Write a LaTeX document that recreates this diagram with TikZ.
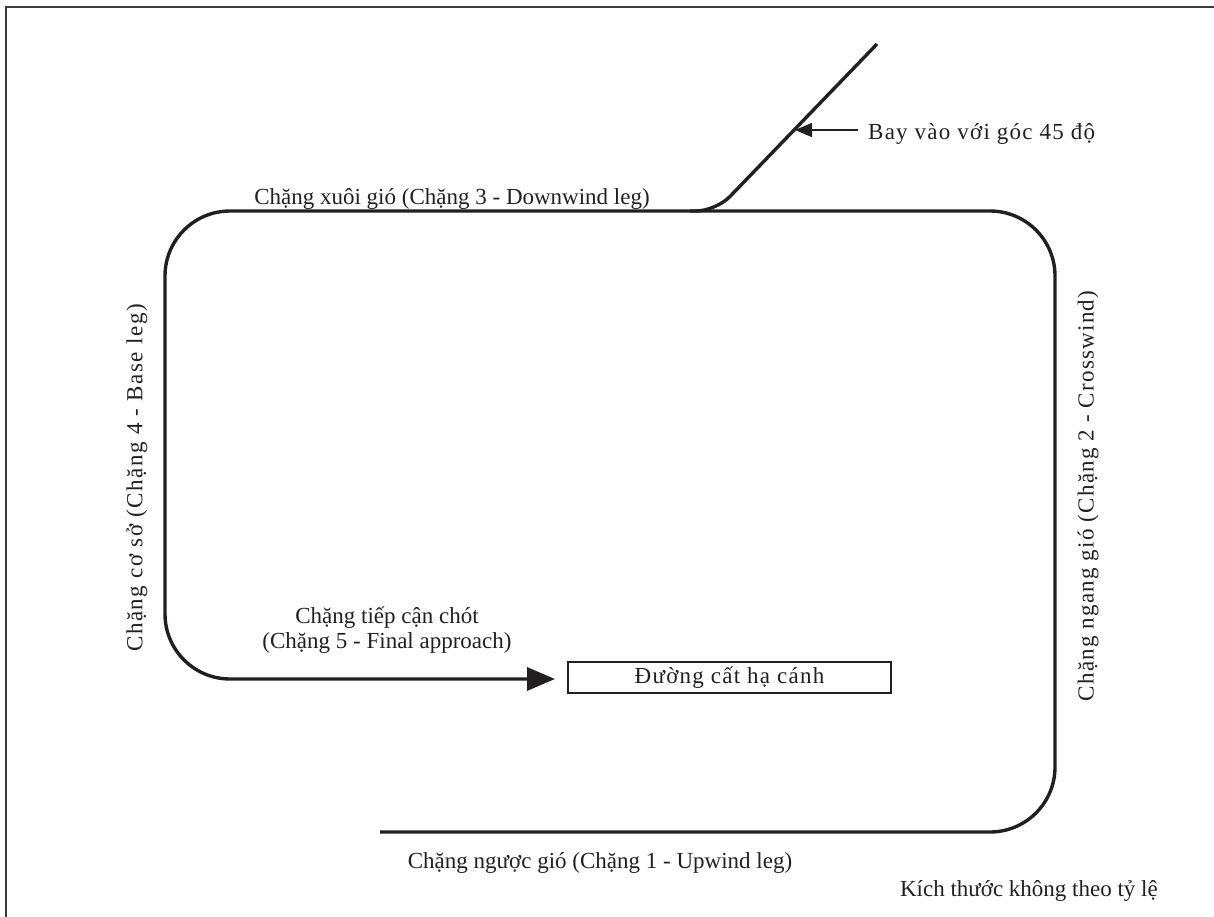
\documentclass[tikz,border=0pt]{standalone}
\usepackage{fontspec}
\setmainfont{Liberation Serif}
\newfontfamily\spacedfont[LetterSpace=5.4]{Liberation Serif}
\newfontfamily\widefont[LetterSpace=6.6]{Liberation Serif}
\usetikzlibrary{arrows.meta}
\definecolor{ink}{HTML}{231F20}
\definecolor{framec}{HTML}{3C3C3C}
\begin{document}
\begin{tikzpicture}[x=1pt,y=-1pt,
  lbl/.style={font=\fontsize{23}{28}\selectfont, text=ink, inner sep=0pt},
  slbl/.style={font=\spacedfont\fontsize{23}{28}\selectfont, text=ink, inner sep=0pt},
  wlbl/.style={font=\widefont\fontsize{23}{28}\selectfont, text=ink, inner sep=0pt},
  leg/.style={draw=ink, line width=3.4pt, line join=round},
  runwaybox/.style={draw=ink, line width=2.2pt, minimum width=323pt, minimum height=31pt, inner sep=0pt},
  pointer/.style={draw=ink, line width=1.5pt, -{Triangle[length=17pt,width=14pt]}},
]
\useasboundingbox (0,0) rectangle (1214,917);
% frame
\draw[framec, line width=2pt] (6,917) -- (6,7) -- (1214,7);

% runway
\node[runwaybox, slbl] (runway) at (729.5,677.5) {Đường cất hạ cánh};

% traffic pattern
\coordinate (p0) at (380,832);
\coordinate (c1) at (1055,832);
\coordinate (c2) at (1055,211);
\coordinate (c3) at (165,211);
\coordinate (c4) at (165,679);
\coordinate (tip) at (555,679);
\draw[leg, rounded corners=65, -{Triangle[length=28pt,width=23pt]}]
  (p0) -- (c1) -- (c2) -- (c3) -- (c4) -- (tip);

% 45 degree entry
\coordinate (e0) at (877,44);
\coordinate (e1) at (716,211);
\coordinate (e2) at (690,211);
\draw[leg, rounded corners=20] (e0) -- (e1) -- (e2);

% labels
\node[slbl, anchor=base west] (bay) at (868,140) {Bay vào với góc 45 độ};
\coordinate (hit) at (795,130);
\draw[pointer] ([xshift=-10pt]bay.west |- hit) -- (hit);

\node[lbl, anchor=base] (dw) at (452,205) {Chặng xuôi gió (Chặng 3 - Downwind leg)};
\node[lbl, anchor=base] (fa1) at (387,623) {Chặng tiếp cận chót};
\node[lbl, anchor=base] (fa2) at (387,648) {(Chặng 5 - Final approach)};
\node[lbl, anchor=base] (uw) at (600,868) {Chặng ngược gió (Chặng 1 - Upwind leg)};
\node[lbl, anchor=base east] (note) at (1158,896) {Kích thước không theo tỷ lệ};
\node[wlbl, rotate=90] (base) at (137,478) {Chặng cơ sở (Chặng 4 - Base leg)};
\node[slbl, rotate=90] (cross) at (1088,496) {Chặng ngang gió (Chặng 2 - Crosswind)};
\end{tikzpicture}
\end{document}
